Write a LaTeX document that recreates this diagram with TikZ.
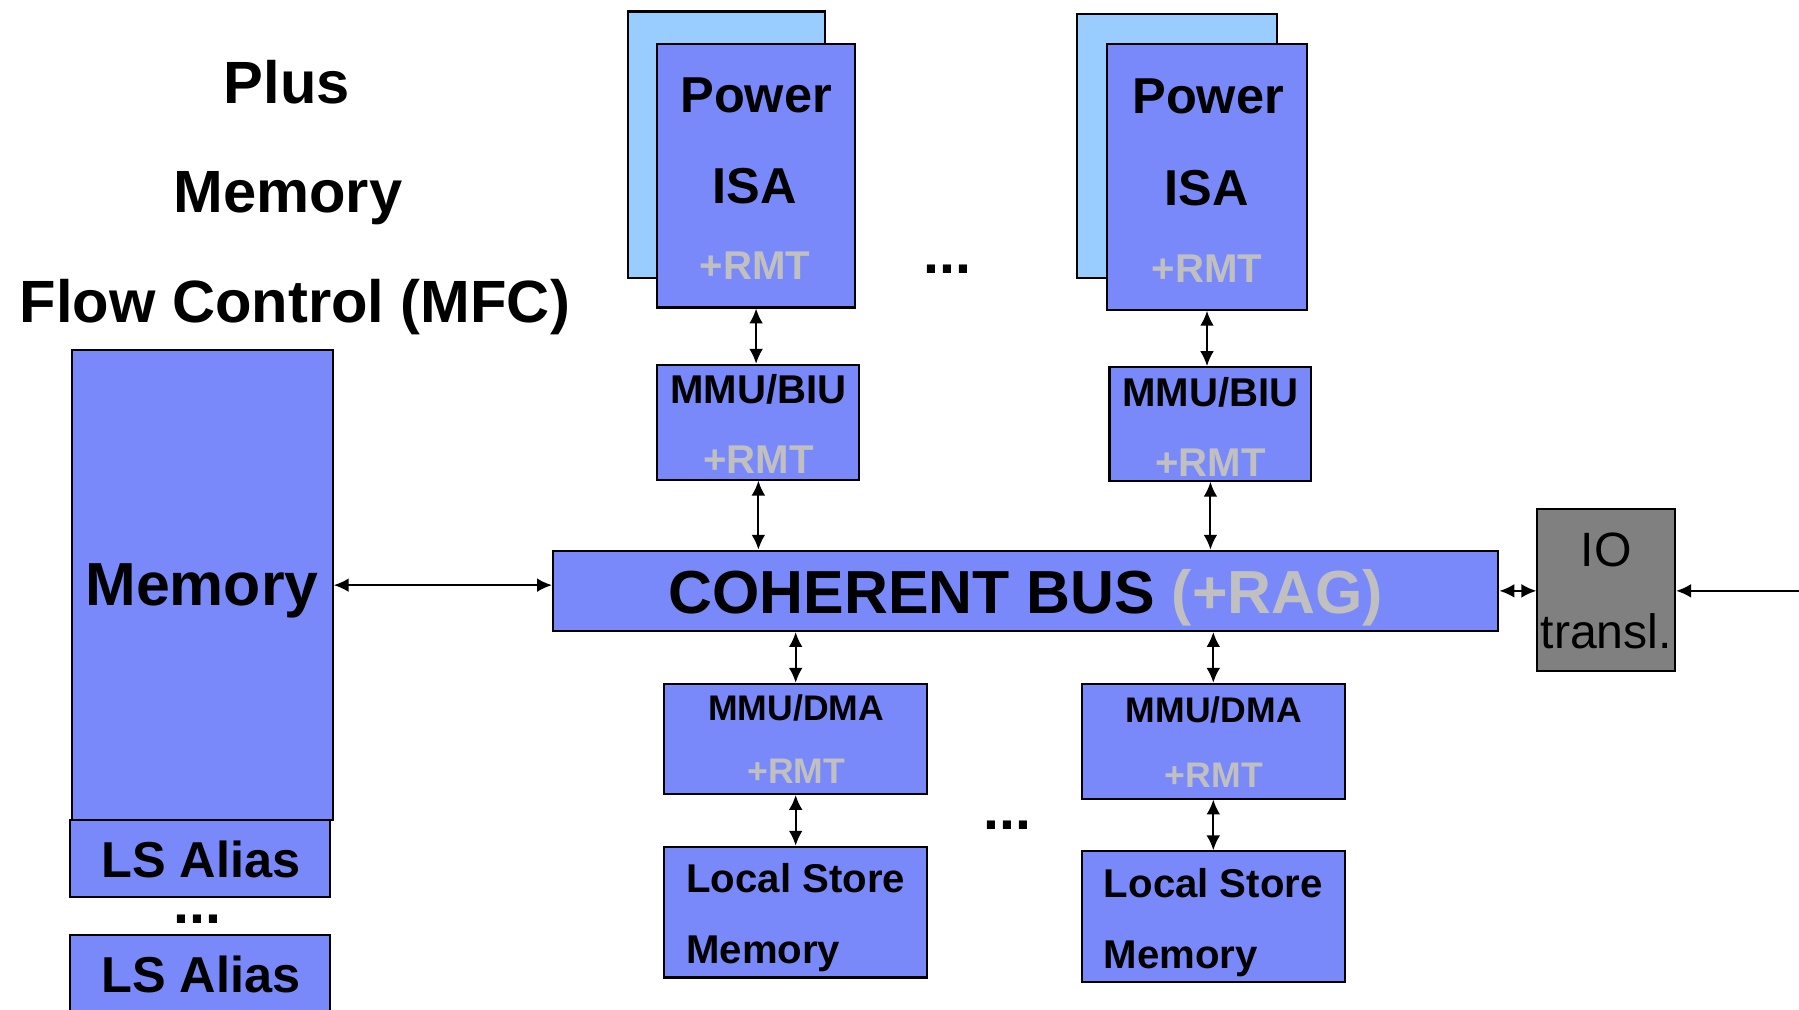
\documentclass[tikz,border=0pt]{standalone}
\usepackage{fontspec}
\setmainfont{Liberation Sans}
\usetikzlibrary{arrows.meta}
\definecolor{boxblue}{RGB}{122,137,250}
\definecolor{backblue}{RGB}{153,204,255}
\definecolor{iogray}{RGB}{128,128,128}
\definecolor{rmtgray}{RGB}{192,192,192}
\begin{document}
\begin{tikzpicture}[x=1pt,y=-1pt,
  blk/.style={draw=black, line width=1.8pt, fill=boxblue, inner sep=0pt, rectangle},
  backblk/.style={blk, fill=backblue},
  iobox/.style={blk, fill=iogray},
  txt/.style={anchor=base, inner sep=0pt, font=\bfseries\fontsize{#1pt}{#1pt}\selectfont},
  rtxt/.style={anchor=base, inner sep=0pt, font=\fontsize{#1pt}{#1pt}\selectfont},
  ltxt/.style={anchor=base west, inner sep=0pt, font=\bfseries\fontsize{#1pt}{#1pt}\selectfont},
  rmt/.style={txt=#1, text=rmtgray},
  dots/.style={txt=50, text height=8pt, text depth=0pt},
  tip/.tip={Latex[length=13pt,width=12pt]},
  dbl/.style={tip-tip, line width=1.8pt},
  one/.style={-tip, line width=1.8pt}]
\clip (0,0) rectangle (1568,880);
\fill[white] (0,0) rectangle (1568,880);

% heading
\node[txt=52] (tPlus) at (250,90) {Plus};
\node[txt=52] (tMem) at (251,185) {Memory};
\node[txt=52] (tMfc) at (257,281) {Flow Control (MFC)};

% PPE stacks
\node[backblk, minimum width=172, minimum height=232] (pisaAback) at (633,126) {};
\node[blk, minimum width=172, minimum height=230] (pisaA) at (659,153) {};
\node[backblk, minimum width=174, minimum height=230] (pisaBback) at (1026,127) {};
\node[blk, minimum width=174, minimum height=232] (pisaB) at (1052,154) {};
\node[txt=44] (pA1) at (659,98) {Power};
\node[txt=44] (pA2) at (658,177) {ISA};
\node[rmt=35] (pA3) at (658,244) {+RMT};
\node[txt=44] (pB1) at (1053,99) {Power};
\node[txt=44] (pB2) at (1052,179) {ISA};
\node[rmt=35] (pB3) at (1052,246) {+RMT};
\node[dots] (dotsTop) at (826,238) {...};

% MMU/BIU
\node[blk, minimum width=176, minimum height=100] (biuA) at (661,368) {};
\node[blk, minimum width=176, minimum height=99] (biuB) at (1055,369.5) {};
\node[txt=35] (bA1) at (661,352) {MMU/BIU};
\node[rmt=35] (bA2) at (661,413) {+RMT};
\node[txt=35] (bB1) at (1055,354) {MMU/BIU};
\node[rmt=35] (bB2) at (1055,415) {+RMT};

% coherent bus
\node[blk, minimum width=824, minimum height=70] (bus) at (894,515) {};
\node[txt=53] (busT) at (894,535) {COHERENT BUS \textcolor{rmtgray}{(+RAG)}};

% main memory and local store aliases
\node[blk, minimum width=227, minimum height=410] (mem) at (176.5,510) {};
\node[txt=53] (memT) at (176,528) {Memory};
\node[blk, minimum width=227, minimum height=67] (lsA1) at (174.5,748.5) {};
\node[txt=44] (lsA1T) at (175,765) {LS Alias};
\node[dots] (dotsLs) at (172,805) {...};
\node[blk, minimum width=227, minimum height=80] (lsA2) at (174.5,855) {};
\node[txt=44] (lsA2T) at (175,865) {LS Alias};

% IO translation
\node[iobox, minimum width=120, minimum height=141] (io) at (1400,514.5) {};
\node[rtxt=42] (ioT1) at (1400,494) {IO};
\node[rtxt=42] (ioT2) at (1400,565) {transl.};
\coordinate (ioin) at (1568,515);

% SPE side
\node[blk, minimum width=229, minimum height=96] (dmaA) at (693.5,644) {};
\node[blk, minimum width=229, minimum height=100] (dmaB) at (1057.5,646) {};
\node[txt=31] (dA1) at (694,628) {MMU/DMA};
\node[rmt=31] (dA2) at (694,683) {+RMT};
\node[txt=31] (dB1) at (1058,630) {MMU/DMA};
\node[rmt=31] (dB2) at (1058,686) {+RMT};
\node[dots] (dotsSpe) at (878,723) {...};
\node[blk, minimum width=229, minimum height=114] (lsmA) at (693.5,795) {};
\node[blk, minimum width=229, minimum height=114] (lsmB) at (1057.5,799) {};
\node[ltxt=35] (lA1) at (598,778) {Local Store};
\node[ltxt=35] (lA2) at (598,840) {Memory};
\node[ltxt=35] (lB1) at (962,782) {Local Store};
\node[ltxt=35] (lB2) at (962,844) {Memory};

% connections
\draw[dbl] (pisaA.south) -- (pisaA.south |- biuA.north);
\draw[dbl] (biuA.south) -- (biuA.south |- bus.north);
\draw[dbl] (pisaB.south) -- (pisaB.south |- biuB.north);
\draw[dbl] (biuB.south) -- (biuB.south |- bus.north);
\draw[dbl] (mem.east) -- (mem.east -| bus.west);
\draw[dbl] (bus.east) -- (bus.east -| io.west);
\draw[one] (ioin) -- (ioin -| io.east);
\draw[dbl] (dmaA.north |- bus.south) -- (dmaA.north);
\draw[dbl] (dmaA.south) -- (dmaA.south |- lsmA.north);
\draw[dbl] (dmaB.north |- bus.south) -- (dmaB.north);
\draw[dbl] (dmaB.south) -- (dmaB.south |- lsmB.north);
\end{tikzpicture}
\end{document}
